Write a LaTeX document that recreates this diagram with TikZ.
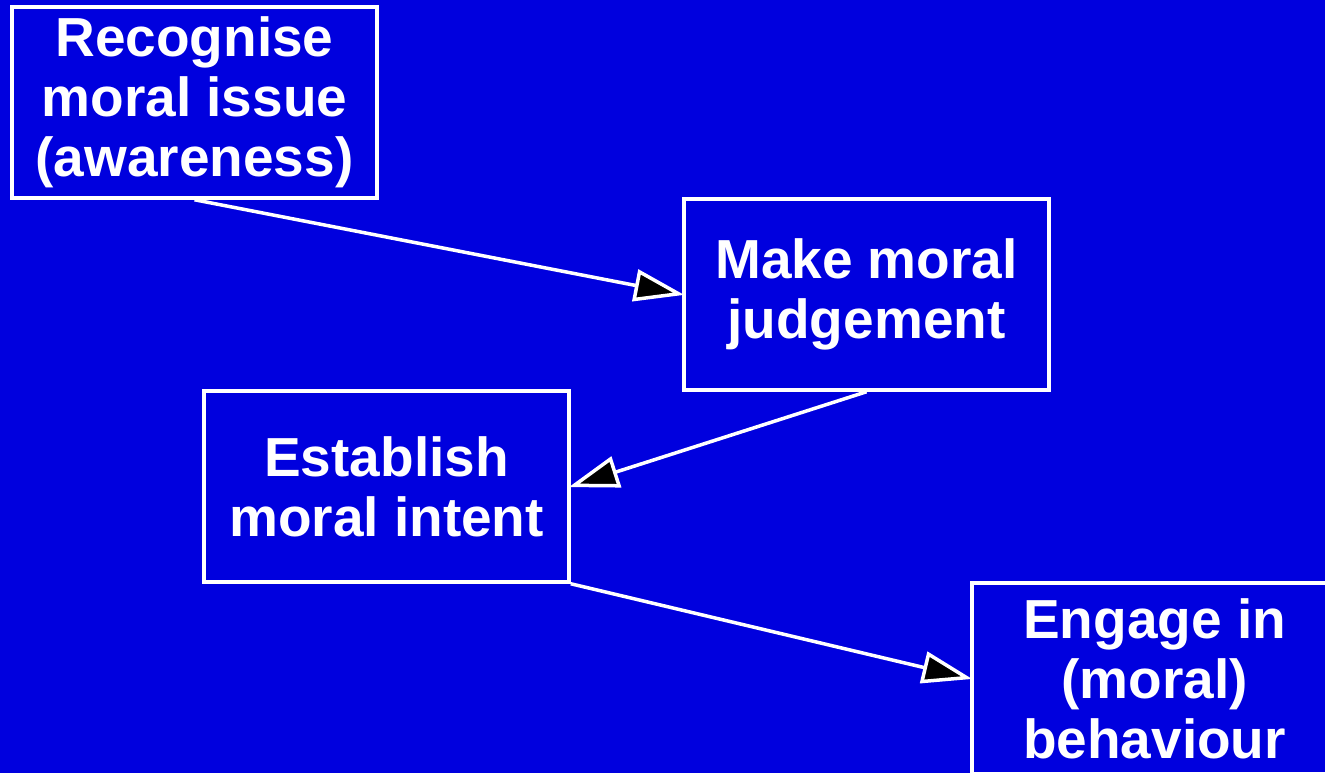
\documentclass[tikz,border=0pt]{standalone}
\usepackage{fontspec}
\setmainfont{Liberation Sans}
\usetikzlibrary{arrows.meta}
\definecolor{bgblue}{RGB}{0,0,222}
\begin{document}
\begin{tikzpicture}[x=1pt,y=-1pt,
  stage/.style={draw=white, line width=3.5pt, fill=bgblue, rectangle,
    minimum width=365pt, minimum height=191pt, inner sep=0pt,
    text=white, align=center, font=\fontsize{55}{60}\selectfont\bfseries},
  flow/.style={draw=white, line width=3.5pt, shorten >=-2pt,
    -{Triangle[length=50pt,width=32pt,fill=black]}}]
\useasboundingbox (0,0) rectangle (1325,773);
\fill[bgblue] (0,0) rectangle (1325,773);
\node[stage] (b1) at (194.5,102.5) {Recognise\\moral issue\\(awareness)};
\node[stage] (b2) at (866.5,294.5) {Make moral\\judgement};
\node[stage] (b3) at (386.5,486.5) {Establish\\moral intent};
\node[stage] (b4) at (1154.5,678.5) {Engage in\\(moral)\\behaviour};
\draw[flow] (b1.south) -- (b2.west);
\draw[flow] (b2.south) -- (b3.east);
\draw[flow] (b3.south east) -- (b4.west);
\end{tikzpicture}
\end{document}
